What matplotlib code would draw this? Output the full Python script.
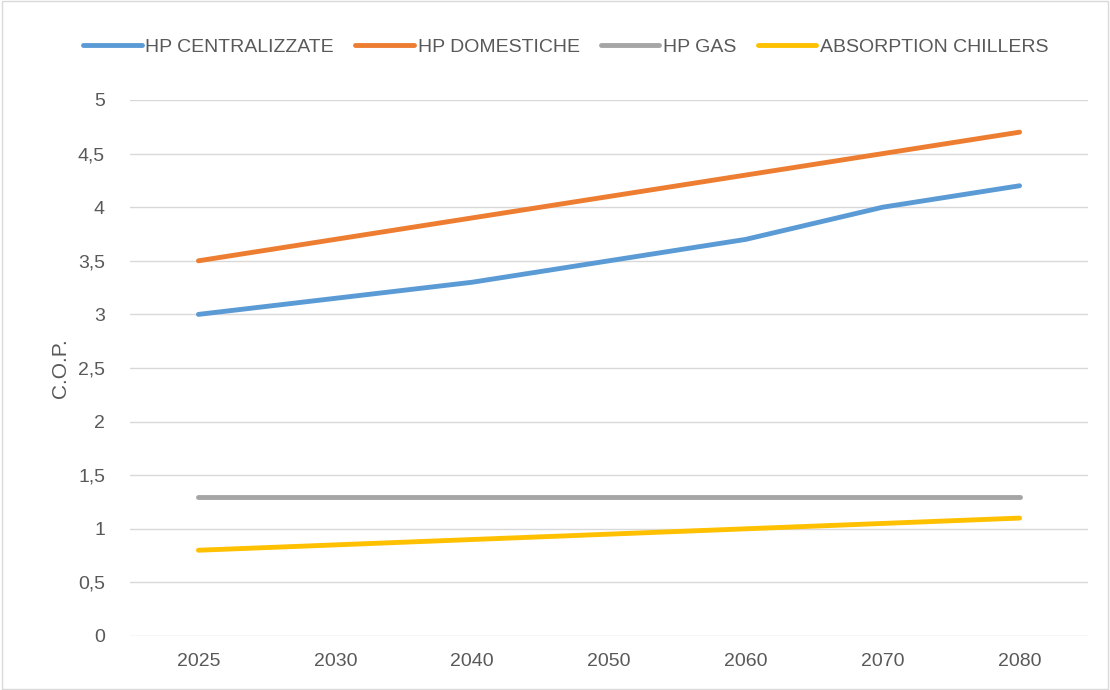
import matplotlib
matplotlib.use("Agg")
import matplotlib.pyplot as plt
from matplotlib.patches import Rectangle

years = ["2025", "2030", "2040", "2050", "2060", "2070", "2080"]
hp_centralizzate = [3.0, 3.15, 3.3, 3.5, 3.7, 4.0, 4.2]
hp_domestiche = [3.5, 3.7, 3.9, 4.1, 4.3, 4.5, 4.7]
hp_gas = [1.3, 1.3, 1.3, 1.3, 1.3, 1.3, 1.3]
absorption = [0.8, 0.85, 0.9, 0.95, 1.0, 1.05, 1.1]
yticks = [0, 0.5, 1, 1.5, 2, 2.5, 3, 3.5, 4, 4.5, 5]

plt.rcParams['font.family'] = ['Liberation Sans', 'DejaVu Sans']
txt = '#595959'

fig = plt.figure(figsize=(11.1, 6.9), dpi=100)
ax = fig.add_axes([130/1110, 54/690, 958/1110, 536/690])

x = list(range(len(years)))
series = [
    ("HP CENTRALIZZATE", hp_centralizzate, '#5B9BD5'),
    ("HP DOMESTICHE", hp_domestiche, '#ED7D31'),
    ("HP GAS", hp_gas, '#A5A5A5'),
    ("ABSORPTION CHILLERS", absorption, '#FFC000'),
]
for name, vals, col in series:
    ax.plot(x, vals, color=col, lw=3.5, label=name, solid_capstyle='round', zorder=3)

ax.set_xlim(-0.5, len(years) - 0.5)
ax.set_ylim(0, 5)
ax.set_yticks(yticks)
ax.set_yticklabels([("%g" % v).replace('.', ',') for v in yticks])
ax.set_xticks(x)
ax.set_xticklabels(years)
ax.grid(axis='y', color='#D9D9D9', lw=1.0, zorder=0)
for s in ax.spines.values():
    s.set_visible(False)
ax.tick_params(axis='both', length=0, colors=txt, labelsize=14)
ax.tick_params(axis='y', pad=18)
ax.tick_params(axis='x', pad=12)
ax.set_ylabel("C.O.P.", color=txt, fontsize=15, labelpad=6)

leg = fig.legend(loc='center', bbox_to_anchor=(566/1110, 1 - 47/690), ncol=4,
                 frameon=False, fontsize=14, handlelength=3.0, handletextpad=0.2,
                 columnspacing=1.1)
for t in leg.get_texts():
    t.set_color(txt)

fig.patches.append(Rectangle((0.002, 0.002), 0.996, 0.996, transform=fig.transFigure,
                             fill=False, edgecolor='#D9D9D9', lw=1.0))

fig.savefig("out.png", dpi=100)
